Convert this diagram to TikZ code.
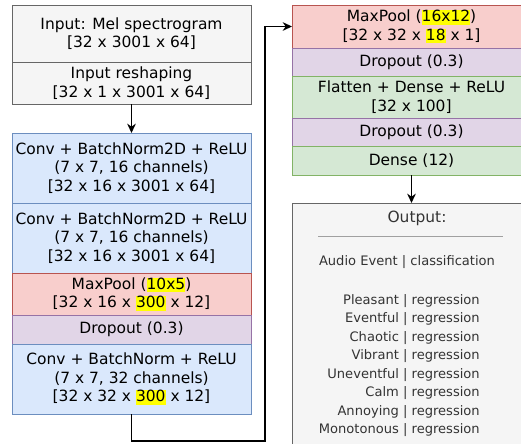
\documentclass[tikz,border=0pt]{standalone}
\usepackage{fontspec}
\setmainfont{DejaVu Sans}
\usepackage{xcolor}
\usetikzlibrary{positioning,arrows.meta}

\definecolor{inputfill}{HTML}{F5F5F5}
\definecolor{inputline}{HTML}{666666}
\definecolor{convfill}{HTML}{DAE8FC}
\definecolor{convline}{HTML}{6C8EBF}
\definecolor{poolfill}{HTML}{F8CECC}
\definecolor{poolline}{HTML}{B85450}
\definecolor{dropfill}{HTML}{E1D5E7}
\definecolor{dropline}{HTML}{9673A6}
\definecolor{densefill}{HTML}{D5E8D4}
\definecolor{denseline}{HTML}{82B366}
\definecolor{hlyellow}{HTML}{FFFF00}
\definecolor{outtext}{HTML}{333333}
\definecolor{sepgray}{HTML}{A0A0A0}

\newcommand{\hlt}[1]{{\setlength{\fboxsep}{0pt}\colorbox{hlyellow}{\vphantom{Ag}#1}}}

\tikzset{
  layer/.style={draw, rectangle, minimum width=179.25pt, inner sep=0pt, outer sep=0pt,
    align=center, line width=0.75pt, font=\fontsize{11.6}{13.9}\selectfont},
  inbox/.style={layer, fill=inputfill, draw=inputline},
  convbox/.style={layer, fill=convfill, draw=convline, minimum height=52.5pt},
  poolbox/.style={layer, fill=poolfill, draw=poolline},
  dropbox/.style={layer, fill=dropfill, draw=dropline},
  densebox/.style={layer, fill=densefill, draw=denseline},
  outbox/.style={layer, fill=inputfill, draw=inputline},
  outhead/.style={inner sep=0pt, text=outtext, font=\fontsize{11.6}{13.9}\selectfont},
  outlist/.style={inner sep=0pt, text=outtext, font=\fontsize{9.8}{13.9}\selectfont},
  arr/.style={-{Stealth[length=7pt,width=6.5pt]}, line width=1.1pt},
}

\begin{document}
\begin{tikzpicture}[x=0.75pt,y=-0.75pt]
    \clip (0,0) rectangle (521,443);
    % left column
    \node[inbox, minimum height=42.75pt] (input) at (131.5,33.5) {Input: Mel spectrogram\\{[32 x 3001 x 64]}};
    \node[inbox, minimum height=31.5pt, below=0pt of input] (reshape) {Input reshaping\\{[32 x 1 x 3001 x 64]}};
    \node[convbox] (conv1) at (131.5,168) {Conv + BatchNorm2D + ReLU\\(7 x 7, 16 channels)\\{[32 x 16 x 3001 x 64]}};
    \node[convbox, below=0pt of conv1] (conv2) {Conv + BatchNorm2D + ReLU\\(7 x 7, 16 channels)\\{[32 x 16 x 3001 x 64]}};
    \node[poolbox, minimum height=31.5pt, below=0pt of conv2] (pool1) {MaxPool (\hlt{10x5})\\{[32 x 16 x \hlt{300} x 12]}};
    \node[dropbox, minimum height=21.75pt, below=0pt of pool1] (drop1) {Dropout (0.3)};
    \node[convbox, below=0pt of drop1] (conv3) {Conv + BatchNorm + ReLU\\(7 x 7, 32 channels)\\{[32 x 32 x \hlt{300} x 12]}};
    % right column
    \node[poolbox, minimum height=32.25pt] (pool2) at (411.5,26.5) {MaxPool (\hlt{16x12})\\{[32 x 32 x \hlt{18} x 1]}};
    \node[dropbox, minimum height=21pt, below=0pt of pool2] (drop2) {Dropout (0.3)};
    \node[densebox, minimum height=31.5pt, below=0pt of drop2] (flat) {Flatten + Dense + ReLU\\{[32 x 100]}};
    \node[dropbox, minimum height=21pt, below=0pt of flat] (drop3) {Dropout (0.3)};
    \node[densebox, minimum height=21.75pt, below=0pt of drop3] (dense) {Dense (12)};
    % output
    \node[outbox, minimum height=187.5pt, anchor=north] (output) at (411.5,203) {};
    \node[outhead] (outtitle) at (417,218) {Output:};
    \coordinate (sepl) at (318,236);
    \coordinate (sepr) at (503,236);
    \draw[sepgray, line width=0.6pt] (sepl) -- (sepr);
    \node[outlist] (event) at (407,262) {Audio Event | classification};
    \node[outlist, align=right, anchor=north east] (scales) at (480,294) {Pleasant | regression\\Eventful | regression\\Chaotic | regression\\Vibrant | regression\\Uneventful | regression\\Calm | regression\\Annoying | regression\\Monotonous | regression};
    % connectors
    \coordinate (turn) at (265,441);
    \draw[arr] (reshape) -- (conv1);
    \draw[arr] (conv3.south) |- (turn) |- (pool2.west);
    \draw[arr] (dense) -- (output);
\end{tikzpicture}
\end{document}
